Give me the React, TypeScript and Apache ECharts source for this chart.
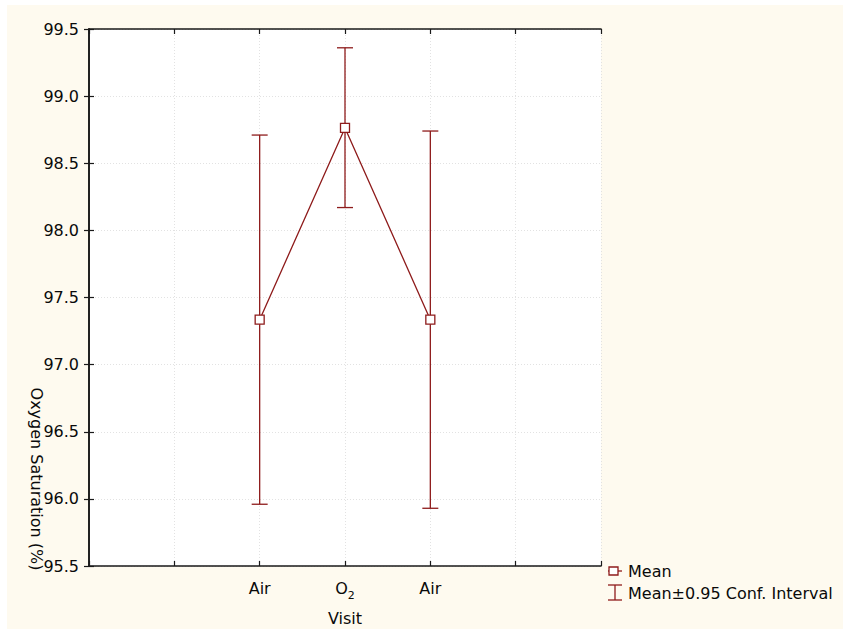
import React, { useEffect, useRef } from "react";
import * as echarts from "echarts";

const categories = ["Air", "O2", "Air"];
const xPositions = [2, 3, 4];
const means = [97.335, 98.763, 97.335];
const upper = [98.71, 99.36, 98.74];
const lower = [95.96, 98.17, 95.93];
const yTicks = { min: 95.5, max: 99.5, interval: 0.5 };
const legendLabels = ["Mean", "Mean±0.95 Conf. Interval"];

const RED = "#8e1b1b";
const FONT = "DejaVu Sans";
const TXT = "#0a0a0a";

export default function App() {
  const ref = useRef<HTMLDivElement>(null);
  useEffect(() => {
    const chart = echarts.init(ref.current!, null, { renderer: "svg" });
    const axisCommon = {
      axisLine: { show: true, lineStyle: { color: "#1a1a1a", width: 1.6 } },
      axisTick: { show: true, inside: true, length: 5, lineStyle: { color: "#1a1a1a", width: 1.2 } },
    };
    const gridLine = { show: true, lineStyle: { color: "#e2e2e2", type: [1, 2], width: 1 } };
    const option: any = {
      animation: false,
      backgroundColor: "#ffffff",
      textStyle: { fontFamily: FONT },
      grid: {
        left: 89,
        top: 29,
        right: 242,
        bottom: 63,
        containLabel: false,
        outerBoundsMode: "none",
        backgroundColor: "#ffffff",
        show: true,
        borderWidth: 0,
      },
      xAxis: [
        {
          type: "value",
          min: 0,
          max: 6,
          interval: 1,
          position: "bottom",
          ...axisCommon,
          splitLine: gridLine,
          axisLabel: {
            margin: 12,
            color: TXT,
            fontFamily: FONT,
            fontSize: 16,
            formatter: (v: number) => {
              const i = xPositions.indexOf(v);
              if (i < 0) return "";
              const c = categories[i];
              if (c === "O2") return "{a|O}{b|2}";
              return "{a|" + c + "}";
            },
            rich: {
              a: { fontSize: 16, fontFamily: FONT, color: TXT, lineHeight: 18, verticalAlign: "bottom" },
              b: { fontSize: 11, fontFamily: FONT, color: TXT, lineHeight: 18, verticalAlign: "bottom", padding: [0, 0, -5, 0] },
            },
          },
          name: "Visit",
          nameLocation: "middle",
          nameGap: 44,
          nameTextStyle: { fontFamily: FONT, fontSize: 16, color: TXT },
        },
        {
          type: "value",
          min: 0,
          max: 6,
          interval: 1,
          position: "top",
          ...axisCommon,
          splitLine: { show: false },
          axisLabel: { show: false },
        },
      ],
      yAxis: [
        {
          type: "value",
          min: yTicks.min,
          max: yTicks.max,
          interval: yTicks.interval,
          position: "left",
          ...axisCommon,
          splitLine: gridLine,
          axisLabel: {
            margin: 10,
            color: TXT,
            fontFamily: FONT,
            fontSize: 16,
            formatter: (v: number) => v.toFixed(1),
          },
        },
        {
          type: "value",
          min: yTicks.min,
          max: yTicks.max,
          interval: yTicks.interval,
          position: "right",
          ...axisCommon,
          splitLine: { show: false },
          axisLabel: { show: false },
        },
      ],
      series: [
        {
          type: "custom",
          name: legendLabels[1],
          xAxisIndex: 0,
          yAxisIndex: 0,
          data: xPositions.map((x, i) => [x, lower[i], upper[i]]),
          encode: { x: 0, y: [1, 2] },
          renderItem: (params: any, api: any) => {
            const x = api.value(0);
            const lo = api.coord([x, api.value(1)]);
            const hi = api.coord([x, api.value(2)]);
            const hw = 8;
            const style = { stroke: RED, lineWidth: 1.3, fill: "none" };
            return {
              type: "group",
              children: [
                { type: "line", shape: { x1: lo[0], y1: lo[1], x2: hi[0], y2: hi[1] }, style },
                { type: "line", shape: { x1: lo[0] - hw, y1: lo[1], x2: lo[0] + hw, y2: lo[1] }, style },
                { type: "line", shape: { x1: hi[0] - hw, y1: hi[1], x2: hi[0] + hw, y2: hi[1] }, style },
              ],
            };
          },
          z: 2,
        },
        {
          type: "line",
          name: legendLabels[0],
          xAxisIndex: 0,
          yAxisIndex: 0,
          data: xPositions.map((x, i) => [x, means[i]]),
          symbol: "rect",
          symbolSize: 9,
          showSymbol: true,
          lineStyle: { color: RED, width: 1.3 },
          itemStyle: { color: "#ffffff", borderColor: RED, borderWidth: 1.3 },
          z: 3,
        },
      ],
      graphic: [
        {
          type: "rect",
          shape: { x: 7, y: 5, width: 836, height: 624 },
          style: { fill: "#fefaef" },
          z: -100,
          silent: true,
        },
        {
          type: "text",
          x: 36,
          y: 479,
          rotation: -Math.PI / 2,
          style: {
            text: "Oxygen Saturation (%)",
            fontFamily: FONT,
            fontSize: 16,
            fill: TXT,
            align: "center",
            verticalAlign: "middle",
          },
        },
        { type: "line", shape: { x1: 608, y1: 571, x2: 622, y2: 571 }, style: { stroke: RED, lineWidth: 1.3 } },
        { type: "rect", shape: { x: 609, y: 567, width: 9, height: 8 }, style: { fill: "#ffffff", stroke: RED, lineWidth: 1.3 } },
        {
          type: "text",
          x: 628,
          y: 571,
          style: { text: legendLabels[0], fontFamily: FONT, fontSize: 16, fill: TXT, verticalAlign: "middle" },
        },
        { type: "line", shape: { x1: 615, y1: 585, x2: 615, y2: 600 }, style: { stroke: RED, lineWidth: 1.3 } },
        { type: "line", shape: { x1: 608, y1: 585, x2: 622, y2: 585 }, style: { stroke: RED, lineWidth: 1.3 } },
        { type: "line", shape: { x1: 608, y1: 600, x2: 622, y2: 600 }, style: { stroke: RED, lineWidth: 1.3 } },
        {
          type: "text",
          x: 628,
          y: 593,
          style: { text: legendLabels[1], fontFamily: FONT, fontSize: 16, fill: TXT, verticalAlign: "middle" },
        },
      ],
    };
    chart.setOption(option);
    return () => chart.dispose();
  }, []);
  return (
    <div
      ref={ref}
      style={{ position: "fixed", left: 0, top: 0, width: 843, height: 629 }}
    />
  );
}
